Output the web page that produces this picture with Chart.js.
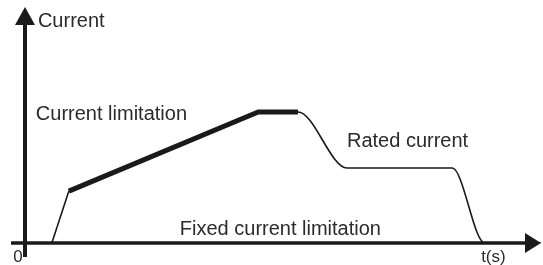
<!DOCTYPE html>
<html>
<head>
<meta charset="utf-8">
<script src="https://cdn.jsdelivr.net/npm/chart.js@4"></script>
<style>
  html, body { margin: 0; padding: 0; background: #fff; }
  canvas { display: block; }
</style>
</head>
<body>
<canvas id="currentChart" width="543" height="265"></canvas>
<script>
// Data (x = time, y = current, both on a 0..100 scale)
const rampStart = [{x: 5.2, y: 0}, {x: 8.5, y: 22}];
const limitedRamp = [{x: 8.5, y: 22}, {x: 45.2, y: 55.5}, {x: 52.9, y: 55.5}];
const ratedPart = [{x: 45.2, y: 55.5}, {x: 52.9, y: 55.5}, {x: 62.4, y: 31.8}, {x: 82.8, y: 31.8}, {x: 89.1, y: 0}, {x: 100, y: 0}];

// Text labels, placed at data coordinates
const labels = [
  {text: "Current", x: 2.5, y: 91.5, size: 20},
  {text: "Current limitation", x: 2.1, y: 52.1, size: 20},
  {text: "Rated current", x: 62.4, y: 40.7, size: 20},
  {text: "Fixed current limitation", x: 30.0, y: 3.4, size: 20},
  {text: "t(s)", x: 88.4, y: -8.1, size: 17},
  {text: "0", x: -2.3, y: -8.1, size: 17}
];

const ink = "#1a1a1a";

// Draws the two axes with arrowheads and the text labels
const axesPlugin = {
  id: "axesPlugin",
  afterDatasetsDraw(chart) {
    const ctx = chart.ctx;
    const xs = chart.scales.x;
    const ys = chart.scales.y;
    const x0 = xs.getPixelForValue(0);
    const y0 = ys.getPixelForValue(0);
    const xEnd = xs.getPixelForValue(100);
    const yEnd = ys.getPixelForValue(100);

    ctx.save();
    ctx.strokeStyle = ink;
    ctx.fillStyle = ink;

    // x axis
    ctx.lineWidth = 3.5;
    ctx.beginPath();
    ctx.moveTo(11, y0);
    ctx.lineTo(xEnd - 12, y0);
    ctx.stroke();
    ctx.beginPath();
    ctx.moveTo(xEnd, y0);
    ctx.lineTo(xEnd - 16, y0 - 10);
    ctx.lineTo(xEnd - 16, y0 + 10);
    ctx.closePath();
    ctx.fill();

    // y axis
    ctx.lineWidth = 4;
    ctx.beginPath();
    ctx.moveTo(x0, 257);
    ctx.lineTo(x0, yEnd + 12);
    ctx.stroke();
    ctx.beginPath();
    ctx.moveTo(x0, yEnd);
    ctx.lineTo(x0 - 10, yEnd + 18);
    ctx.lineTo(x0 + 10, yEnd + 18);
    ctx.closePath();
    ctx.fill();

    // labels
    ctx.fillStyle = "#2b2b2b";
    ctx.textBaseline = "alphabetic";
    ctx.textAlign = "left";
    labels.forEach(function(l) {
      ctx.font = l.size + "px 'Liberation Sans', Arial, sans-serif";
      ctx.fillText(l.text, xs.getPixelForValue(l.x), ys.getPixelForValue(l.y));
    });
    ctx.restore();
  }
};

new Chart(document.getElementById("currentChart"), {
  type: "line",
  data: {
    datasets: [
      {
        data: ratedPart,
        borderColor: ink,
        borderWidth: 1.6,
        pointRadius: 0,
        cubicInterpolationMode: "monotone",
        fill: false
      },
      {
        data: rampStart,
        borderColor: ink,
        borderWidth: 1.6,
        pointRadius: 0,
        tension: 0,
        fill: false
      },
      {
        data: limitedRamp,
        borderColor: ink,
        borderWidth: 5,
        pointRadius: 0,
        tension: 0,
        fill: false
      }
    ]
  },
  options: {
    responsive: false,
    animation: false,
    layout: {
      padding: {left: 25, right: 2, top: 7, bottom: 22}
    },
    scales: {
      x: {type: "linear", min: 0, max: 100, display: false},
      y: {type: "linear", min: 0, max: 100, display: false}
    },
    plugins: {
      legend: {display: false},
      tooltip: {enabled: false}
    }
  },
  plugins: [axesPlugin]
});
</script>
</body>
</html>
